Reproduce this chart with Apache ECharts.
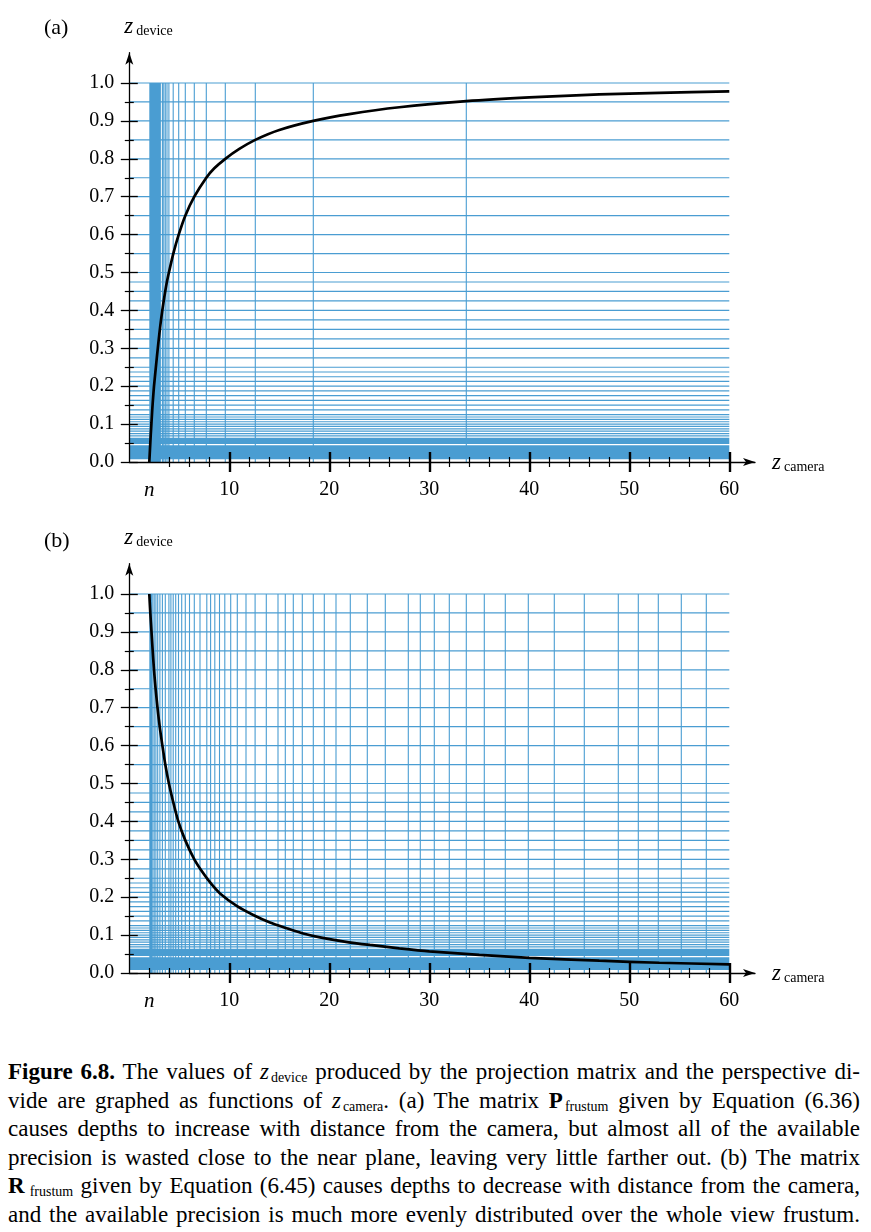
<!DOCTYPE html>
<html>
<head>
<meta charset="utf-8">
<script src="https://cdn.jsdelivr.net/npm/echarts@6/dist/echarts.min.js"></script>
<style>
html,body{margin:0;padding:0;background:#fff;}
#chart{position:absolute;left:0;top:0;width:871px;height:1040px;}
#cap{position:absolute;left:8px;top:1058px;width:852px;font-family:"Liberation Serif","Times New Roman",serif;font-size:23px;line-height:28.5px;color:#000;}
#cap div{height:28.5px;white-space:nowrap;text-align:justify;text-align-last:justify;}
#cap .s{font-size:14px;line-height:0;vertical-align:-3px;margin-left:2px;}
</style>
</head>
<body>
<div id="chart"></div>
<div id="cap">
<div><b>Figure 6.8.</b> The values of <i>z</i><span class="s">device</span> produced by the projection matrix and the perspective di-</div>
<div>vide are graphed as functions of <i>z</i><span class="s">camera</span>. (a) The matrix <b>P</b><span class="s">frustum</span> given by Equation (6.36)</div>
<div>causes depths to increase with distance from the camera, but almost all of the available</div>
<div>precision is wasted close to the near plane, leaving very little farther out. (b) The matrix</div>
<div><b>R</b><span class="s" style="margin-left:5px">frustum</span> given by Equation (6.45) causes depths to decrease with distance from the camera,</div>
<div>and the available precision is much more evenly distributed over the whole view frustum.</div>
</div>
<script>
// ---------------- data ----------------
const panelLabels = ['(a)', '(b)'];
const xMajorTicks = [10, 20, 30, 40, 50, 60];
const xLabelValues = [2, 10, 20, 30, 40, 50, 60];
const xMinorTicksA = [4, 6, 8, 12, 14, 16, 18, 22, 24, 26, 28, 32, 34, 36, 38, 42, 44, 46, 48, 52, 54, 56, 58];
const xMinorTicksB = [2, 4, 6, 8, 12, 14, 16, 18, 22, 24, 26, 28, 32, 34, 36, 38, 42, 44, 46, 48, 52, 54, 56, 58];
const yMajorTicks = [0, 0.1, 0.2, 0.3, 0.4, 0.5, 0.6, 0.7, 0.8, 0.9, 1.0];
const yMinorTicks = [0.05, 0.15, 0.25, 0.35, 0.45, 0.55, 0.65, 0.75, 0.85, 0.95];

// horizontal precision lines (z_device values), same in both panels
const hLines = [1.0, 0.95, 0.9, 0.85, 0.8, 0.75, 0.7, 0.65, 0.6, 0.55, 0.5,
  0.475, 0.45, 0.425, 0.4, 0.375, 0.35, 0.325, 0.3, 0.275, 0.25,
  0.2375, 0.225, 0.2125, 0.2, 0.1875, 0.175, 0.1625, 0.15, 0.1375, 0.125,
  0.11875, 0.1125, 0.10625, 0.1, 0.09375, 0.0875, 0.08125, 0.075, 0.06875, 0.0625];
// dense (solid) horizontal bands [y0, y1]
const hBandsA = [[0.0071, 0.044], [0.0475, 0.0607]];
const hBandsB = [[0.0079, 0.0414], [0.0449, 0.0607]];
// vertical precision lines (z_camera values)
const vLinesA = [3.31, 3.45, 3.6, 3.77, 3.96, 4.39, 4.94, 5.6, 6.5, 7.7, 9.6, 12.6, 18.4, 33.7];
const vLinesB = [2.35, 2.49, 2.66, 2.84, 3.06, 3.31, 3.6, 3.96, 4.16, 4.39, 4.64, 4.92, 5.24, 5.6,
  6.02, 6.5, 7.07, 7.75, 8.13, 8.55, 9.02, 9.55, 10.14, 10.8, 11.67, 12.58, 13.7, 14.87, 15.6, 16.4,
  17.3, 18.4, 19.5, 20.67, 22.1, 23.8, 25.6, 27.9, 29.1, 30.5, 32.0, 33.7, 35.5, 37.6, 39.9, 42.5,
  45.5, 48.9, 50.9, 52.9, 55.2, 57.7];
// dense (solid) vertical bands [x0, x1]
const vBandsA = [[2.0, 3.16]];
const vBandsB = [[2.0, 2.27]];
// curves [z_camera, z_device]
const curveA = [[2, 0], [2.07, 0.035], [2.14, 0.07], [2.22, 0.105], [2.3, 0.14], [2.38, 0.17], [2.47, 0.2],
  [2.6, 0.235], [2.77, 0.28], [2.93, 0.32], [3.1, 0.36], [3.3, 0.4], [3.5, 0.435], [3.72, 0.47],
  [3.96, 0.5], [4.4, 0.55], [4.94, 0.6], [5.6, 0.65], [6.5, 0.7], [7.7, 0.75], [8.5, 0.775], [9.6, 0.8],
  [11, 0.826], [12.6, 0.85], [15, 0.876], [18.4, 0.9], [22, 0.918], [27, 0.936], [33.7, 0.952],
  [40, 0.962], [47, 0.97], [53, 0.974], [60, 0.978]];
const curveB = [[2, 1.0], [2.1, 0.95], [2.22, 0.9], [2.34, 0.85], [2.47, 0.8], [2.63, 0.75], [2.82, 0.7],
  [3.04, 0.65], [3.31, 0.6], [3.6, 0.55], [3.96, 0.5], [4.4, 0.45], [4.9, 0.4], [5.6, 0.35], [6.5, 0.3],
  [7.4, 0.263], [8.2, 0.235], [9.07, 0.21], [10.74, 0.177], [12.4, 0.153], [14.07, 0.133],
  [15.74, 0.118], [17.3, 0.105], [19.07, 0.094], [21.5, 0.083], [24.07, 0.074], [27, 0.065], [30, 0.057],
  [35, 0.048], [40, 0.04], [47, 0.0325], [53, 0.027], [60, 0.023]];
const X_MIN = 0, X_MAX = 62.57, Y_MIN = 0, Y_MAX = 1.08;
const LINE_X_END = 60, LINE_Y_END = 1.0;

// ---------------- style ----------------
const FONT = '"Liberation Serif","Times New Roman",serif';
const BLUE = '#4a9dd2';
const BLACK = '#000';

const chart = echarts.init(document.getElementById('chart'), null, {renderer: 'canvas'});

const grids = [
  {left: 129.3, top: 52.7, width: 625.7, height: 409.3},
  {left: 129.3, top: 563.7, width: 625.7, height: 409.3}
];

function nameRich() {
  return {
    z: {fontFamily: FONT, fontStyle: 'italic', fontSize: 23, lineHeight: 24, verticalAlign: 'bottom', color: BLACK},
    d: {fontFamily: FONT, fontSize: 14, lineHeight: 14, verticalAlign: 'bottom', color: BLACK, padding: [0, 0, 0, 3]}
  };
}

const xAxes = [], yAxes = [], series = [], titles = [];
[0, 1].forEach(function (g) {
  const minorX = g === 0 ? xMinorTicksA : xMinorTicksB;
  xAxes.push({
    gridIndex: g, type: 'value', min: X_MIN, max: X_MAX, position: 'bottom', z: 6,
    axisLine: {show: true, onZero: false, symbol: ['none', 'arrow'], symbolSize: [6, 12], lineStyle: {color: BLACK, width: 1.3}},
    axisTick: {show: false}, splitLine: {show: false},
    axisLabel: {
      customValues: xLabelValues, margin: 18, color: BLACK, fontFamily: FONT, fontSize: 20,
      formatter: function (v) { return v === 2 ? '{n|n}' : String(v); },
      rich: {n: {fontFamily: FONT, fontStyle: 'italic', fontSize: 21, color: BLACK}}
    },
    name: '{z|z}{d|camera}', nameLocation: 'end', nameGap: 17,
    nameTextStyle: {align: 'left', verticalAlign: 'middle', rich: nameRich()}
  });
  xAxes.push({
    gridIndex: g, type: 'value', min: X_MIN, max: X_MAX, position: 'bottom', offset: -10, z: 6,
    axisLine: {show: false, onZero: false}, axisLabel: {show: false}, splitLine: {show: false},
    axisTick: {show: true, customValues: xMajorTicks, length: 20, lineStyle: {color: BLACK, width: 2.4}}
  });
  xAxes.push({
    gridIndex: g, type: 'value', min: X_MIN, max: X_MAX, position: 'bottom', offset: -5, z: 6,
    axisLine: {show: false, onZero: false}, axisLabel: {show: false}, splitLine: {show: false},
    axisTick: {show: true, customValues: minorX, length: 10, lineStyle: {color: BLACK, width: 1.2}}
  });
  yAxes.push({
    gridIndex: g, type: 'value', min: Y_MIN, max: Y_MAX, position: 'left', z: 6,
    axisLine: {show: true, onZero: false, symbol: ['none', 'arrow'], symbolSize: [6, 12], lineStyle: {color: BLACK, width: 1.3}},
    axisTick: {show: false}, splitLine: {show: false},
    axisLabel: {
      customValues: yMajorTicks, margin: 15, color: BLACK, fontFamily: FONT, fontSize: 20,
      formatter: function (v) { return v.toFixed(1); }
    },
    name: '{z|z}{d|device}', nameLocation: 'end', nameGap: 14,
    nameTextStyle: {align: 'left', verticalAlign: 'bottom', padding: [0, 0, 0, -5], rich: nameRich()}
  });
  yAxes.push({
    gridIndex: g, type: 'value', min: Y_MIN, max: Y_MAX, position: 'left', offset: -8.5, z: 6,
    axisLine: {show: false, onZero: false}, axisLabel: {show: false}, splitLine: {show: false},
    axisTick: {show: true, customValues: yMajorTicks, length: 17, lineStyle: {color: BLACK, width: 1.3}}
  });
  yAxes.push({
    gridIndex: g, type: 'value', min: Y_MIN, max: Y_MAX, position: 'left', offset: -4.5, z: 6,
    axisLine: {show: false, onZero: false}, axisLabel: {show: false}, splitLine: {show: false},
    axisTick: {show: true, customValues: yMinorTicks, length: 9, lineStyle: {color: BLACK, width: 1.2}}
  });

  const xi = g * 3, yi = g * 3;
  const hBands = g === 0 ? hBandsA : hBandsB;
  const vBands = g === 0 ? vBandsA : vBandsB;
  const vLines = g === 0 ? vLinesA : vLinesB;
  const curve = g === 0 ? curveA : curveB;

  series.push({
    type: 'custom', xAxisIndex: xi, yAxisIndex: yi, z: 1, silent: true,
    data: hLines.map(function (v) { return [v]; }),
    renderItem: function (params, api) {
      const v = api.value(0);
      const p1 = api.coord([X_MIN, v]), p2 = api.coord([LINE_X_END, v]);
      return {type: 'line', shape: {x1: p1[0], y1: p1[1], x2: p2[0], y2: p2[1]}, style: {stroke: BLUE, lineWidth: 1.2}};
    }
  });
  series.push({
    type: 'custom', xAxisIndex: xi, yAxisIndex: yi, z: 1, silent: true,
    data: vLines.map(function (v) { return [v]; }),
    renderItem: function (params, api) {
      const v = api.value(0);
      const p1 = api.coord([v, Y_MIN]), p2 = api.coord([v, LINE_Y_END]);
      return {type: 'line', shape: {x1: p1[0], y1: p1[1], x2: p2[0], y2: p2[1]}, style: {stroke: BLUE, lineWidth: 1.1}};
    }
  });
  series.push({
    type: 'custom', xAxisIndex: xi, yAxisIndex: yi, z: 1, silent: true,
    data: hBands.map(function (b) { return [b[0], b[1]]; }),
    renderItem: function (params, api) {
      const a = api.coord([X_MIN, api.value(1)]), b = api.coord([LINE_X_END, api.value(0)]);
      return {type: 'rect', shape: {x: a[0], y: a[1], width: b[0] - a[0], height: b[1] - a[1]}, style: {fill: BLUE}};
    }
  });
  series.push({
    type: 'custom', xAxisIndex: xi, yAxisIndex: yi, z: 1, silent: true,
    data: vBands.map(function (b) { return [b[0], b[1]]; }),
    renderItem: function (params, api) {
      const a = api.coord([api.value(0), LINE_Y_END]), b = api.coord([api.value(1), Y_MIN]);
      return {type: 'rect', shape: {x: a[0], y: a[1], width: b[0] - a[0], height: b[1] - a[1]}, style: {fill: BLUE}};
    }
  });
  series.push({
    type: 'line', xAxisIndex: xi, yAxisIndex: yi, z: 3, data: curve,
    smooth: 0.25, symbol: 'none', silent: true,
    lineStyle: {color: BLACK, width: 2.7}
  });

  titles.push({
    text: panelLabels[g], left: 39, top: g === 0 ? 12 : 525,
    textStyle: {fontFamily: FONT, fontSize: 22, fontWeight: 'normal', color: BLACK}
  });
});

chart.setOption({
  animation: false,
  backgroundColor: '#fff',
  title: titles,
  grid: grids,
  xAxis: xAxes,
  yAxis: yAxes,
  series: series
});
</script>
</body>
</html>
